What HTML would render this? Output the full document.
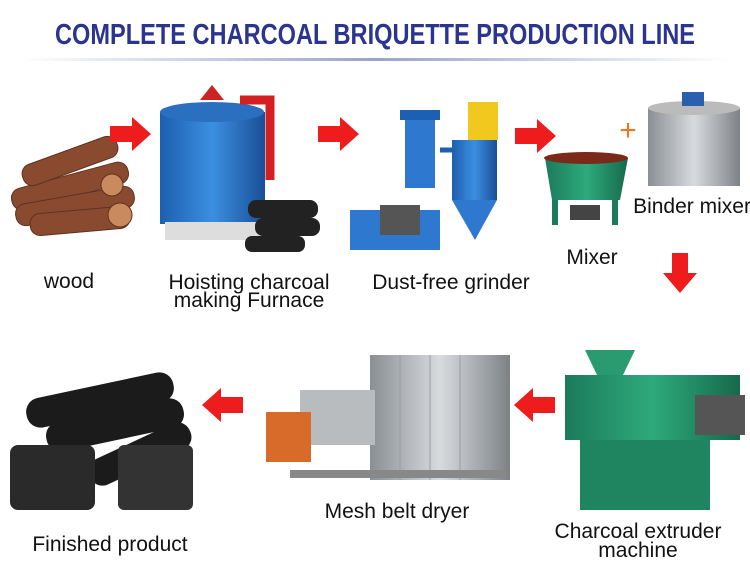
<!DOCTYPE html>
<html><head><meta charset="utf-8"><style>
body{margin:0;background:#fff;}
svg{display:block}
text{font-family:"Liberation Sans",sans-serif;}
</style></head><body>
<svg width="750" height="572" viewBox="0 0 750 572" xmlns="http://www.w3.org/2000/svg">
<defs>
<linearGradient id="ul" x1="0" x2="1"><stop offset="0" stop-color="#fff"/><stop offset="0.5" stop-color="#9aa3c8"/><stop offset="1" stop-color="#fff"/></linearGradient>
<linearGradient id="blue" x1="0" x2="1"><stop offset="0" stop-color="#1d5fb0"/><stop offset="0.5" stop-color="#3b8fe0"/><stop offset="1" stop-color="#1a4f98"/></linearGradient>
<linearGradient id="grn" x1="0" x2="1"><stop offset="0" stop-color="#1b7a5a"/><stop offset="0.5" stop-color="#2eaa7c"/><stop offset="1" stop-color="#16694c"/></linearGradient>
<linearGradient id="gry" x1="0" x2="1"><stop offset="0" stop-color="#8a8f94"/><stop offset="0.5" stop-color="#d8dbde"/><stop offset="1" stop-color="#7d8287"/></linearGradient>
</defs>
<rect width="750" height="572" fill="#fff"/>
<text x="375" y="44" text-anchor="middle" font-size="29" font-weight="bold" fill="#2b3590" textLength="640" lengthAdjust="spacingAndGlyphs">COMPLETE CHARCOAL BRIQUETTE PRODUCTION LINE</text>
<rect x="20" y="58" width="710" height="3" fill="url(#ul)"/>

<!-- wood -->
<g fill="#8a4a30" stroke="#5e3320" stroke-width="1">
<rect x="10" y="175" width="120" height="22" rx="10" transform="rotate(-15 70 186)"/>
<rect x="15" y="195" width="120" height="22" rx="10" transform="rotate(-10 75 206)"/>
<rect x="20" y="150" width="100" height="22" rx="10" transform="rotate(-20 70 161)"/>
<rect x="30" y="210" width="100" height="22" rx="10" transform="rotate(-5 80 221)"/>
<circle cx="120" cy="215" r="12" fill="#c98a5e"/><circle cx="112" cy="185" r="11" fill="#c98a5e"/>
</g>
<!-- furnace -->
<rect x="160" y="112" width="105" height="112" fill="url(#blue)"/>
<ellipse cx="212" cy="112" rx="52" ry="10" fill="#2a6fc0"/>
<path d="M200 100 L212 85 L224 100 Z" fill="#c22"/>
<rect x="165" y="222" width="100" height="18" fill="#ddd"/>
<path d="M240 100 h30 v80" stroke="#d42020" stroke-width="9" fill="none"/>
<g fill="#222"><rect x="248" y="200" width="70" height="18" rx="8"/><rect x="255" y="218" width="65" height="18" rx="8"/><rect x="245" y="236" width="60" height="16" rx="7"/></g>
<!-- grinder -->
<rect x="405" y="118" width="30" height="70" fill="#2f78d0"/>
<rect x="400" y="110" width="40" height="10" fill="#1d5fb0"/>
<rect x="452" y="140" width="45" height="60" fill="url(#blue)"/>
<path d="M452 200 L475 240 L497 200 Z" fill="#2f78d0"/>
<rect x="468" y="102" width="30" height="38" fill="#f0c81e"/>
<rect x="350" y="210" width="90" height="40" fill="#2f78d0"/>
<rect x="380" y="205" width="40" height="30" fill="#555"/>
<path d="M440 150 h15" stroke="#1d5fb0" stroke-width="5"/>
<!-- mixer -->
<path d="M545 158 L628 158 L620 200 L552 200 Z" fill="url(#grn)"/>
<ellipse cx="586" cy="158" rx="42" ry="6" fill="#7b2a1a"/>
<rect x="552" y="200" width="6" height="25" fill="#1b7a5a"/><rect x="612" y="200" width="6" height="25" fill="#1b7a5a"/>
<rect x="570" y="205" width="30" height="15" fill="#444"/>
<!-- plus -->
<text x="628" y="140" text-anchor="middle" font-size="30" fill="#f07820">+</text>
<!-- binder mixer -->
<rect x="648" y="108" width="92" height="78" fill="url(#gry)"/>
<ellipse cx="694" cy="108" rx="46" ry="7" fill="#bbb"/>
<rect x="682" y="92" width="22" height="14" fill="#2a5fb0"/>
<!-- labels -->
<g font-size="21" fill="#111" text-anchor="middle">
<text x="69" y="288">wood</text>
<text x="249" y="289">Hoisting charcoal</text>
<text x="249" y="307">making Furnace</text>
<text x="451" y="289">Dust-free grinder</text>
<text x="592" y="264">Mixer</text>
<text x="692" y="213">Binder mixer</text>
<text x="110" y="551">Finished product</text>
<text x="397" y="518">Mesh belt dryer</text>
<text x="638" y="538">Charcoal extruder</text>
<text x="638" y="557">machine</text>
</g>
<!-- arrows -->
<g fill="#ee1c1c">
<path d="M110 126 h22 v-9 l19 17 l-19 17 v-9 h-22 Z"/>
<path d="M318 126 h22 v-9 l19 17 l-19 17 v-9 h-22 Z"/>
<path d="M515 128 h22 v-9 l19 17 l-19 17 v-9 h-22 Z"/>
<path d="M672 253 v20 h-9 l17 20 l17 -20 h-9 v-20 Z"/>
<path d="M555 397 h-22 v-9 l-19 17 l19 17 v-9 h22 Z"/>
<path d="M243 397 h-22 v-9 l-19 17 l19 17 v-9 h22 Z"/>
</g>
<!-- extruder -->
<path d="M585 350 h50 l-12 25 h-26 Z" fill="#2a9a70"/>
<rect x="565" y="375" width="175" height="65" fill="url(#grn)"/>
<rect x="580" y="440" width="130" height="70" fill="#1f8460"/>
<rect x="695" y="395" width="50" height="40" fill="#555"/>
<!-- dryer -->
<rect x="370" y="355" width="140" height="125" fill="url(#gry)"/>
<g stroke="#9a9ea2" stroke-width="1"><path d="M400 355v125M430 355v125M460 355v125M490 355v125"/></g>
<rect x="300" y="390" width="75" height="55" fill="#b9bcbf"/>
<rect x="266" y="412" width="45" height="50" fill="#d86a2a"/>
<rect x="290" y="470" width="215" height="8" fill="#888"/>
<!-- finished -->
<g fill="#1b1b1b">
<rect x="25" y="385" width="150" height="30" rx="14" transform="rotate(-12 100 400)"/>
<rect x="45" y="410" width="140" height="30" rx="14" transform="rotate(-12 115 425)"/>
<rect x="85" y="440" width="110" height="28" rx="13" transform="rotate(-25 140 454)"/>
<rect x="10" y="445" width="85" height="65" rx="8" fill="#2a2a2a"/>
<rect x="118" y="445" width="75" height="65" rx="6" fill="#333"/>
</g>
</svg>
</body></html>
